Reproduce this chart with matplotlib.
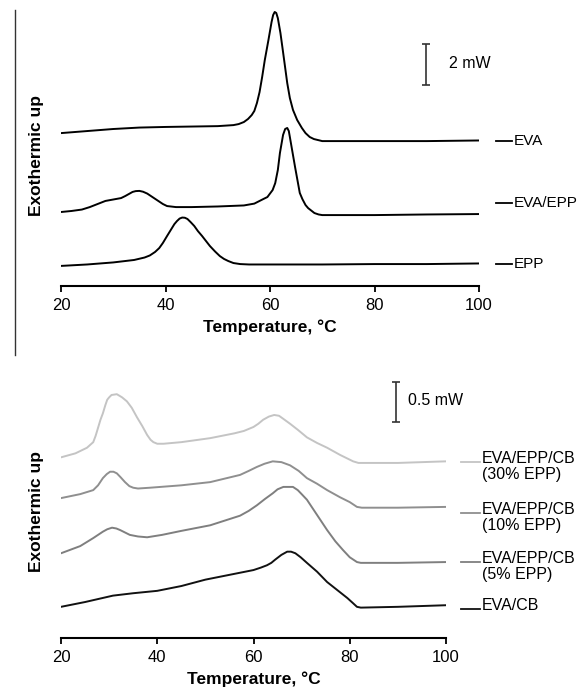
import matplotlib
matplotlib.use('Agg')
import matplotlib.pyplot as plt
from matplotlib.lines import Line2D

plt.rcParams['font.family'] = ['Liberation Sans', 'DejaVu Sans']

# ---- top panel: heat flow (mW, curves already shifted) vs temperature (C)
eva_t = [20, 25, 30, 35, 40, 45, 50, 53, 54, 55, 55.8, 56.5, 57, 57.5, 58, 58.5,
         59, 59.7, 60.3, 60.6, 60.9, 61.2, 61.5, 62.0, 62.5, 63.3, 63.8, 64.4,
         65.2, 66.1, 66.8, 67.6, 68.4, 69.2, 70, 80, 90, 100]
eva_q = [7.46, 7.56, 7.66, 7.73, 7.76, 7.78, 7.80, 7.85, 7.90, 8.00, 8.15, 8.34,
         8.54, 8.93, 9.46, 10.20, 11.02, 12.00, 12.88, 13.22, 13.37, 13.32, 13.07,
         12.34, 11.41, 9.90, 9.17, 8.59, 8.10, 7.71, 7.46, 7.27, 7.17, 7.12, 7.07,
         7.07, 7.07, 7.10]

evaepp_t = [20, 22, 24, 25.5, 27, 28.5, 30, 31.5, 32.3, 33, 33.7, 34.3, 35, 35.7,
            36.5, 37.5, 38.5, 39.5, 40.3, 41, 42, 45, 50, 55, 57, 58.7, 59.5, 60.5,
            61, 61.5, 61.9, 62.5, 62.9, 63.3, 63.6, 63.8, 64.8, 65.7, 66.2, 66.8,
            67.3, 68, 68.5, 69.3, 70, 80, 90, 100]
evaepp_q = [3.61, 3.66, 3.73, 3.85, 4.00, 4.15, 4.22, 4.29, 4.39, 4.49, 4.59, 4.63,
            4.64, 4.60, 4.51, 4.34, 4.17, 4.00, 3.90, 3.88, 3.85, 3.85, 3.88, 3.93,
            4.02, 4.24, 4.34, 4.68, 5.02, 5.66, 6.49, 7.37, 7.66, 7.71, 7.56, 7.27,
            5.80, 4.54, 4.24, 3.95, 3.80, 3.66, 3.56, 3.49, 3.46, 3.46, 3.49, 3.51]

epp_t = [20, 25, 30, 34, 36, 37, 38, 38.8, 39.5, 40.3, 41, 41.7, 42.2, 42.7, 43.2,
         43.7, 44.2, 44.8, 45.5, 46.2, 47, 48.5, 49.5, 50.4, 51.2, 52, 53, 54.3,
         56, 60, 70, 80, 90, 100]
epp_q = [0.98, 1.05, 1.15, 1.27, 1.39, 1.49, 1.66, 1.85, 2.10, 2.44, 2.73, 3.02,
         3.17, 3.29, 3.34, 3.33, 3.27, 3.12, 2.93, 2.68, 2.44, 1.95, 1.68, 1.46,
         1.32, 1.22, 1.12, 1.07, 1.05, 1.05, 1.05, 1.07, 1.07, 1.10]

top_labels = ['EVA', 'EVA/EPP', 'EPP']
top_label_y = [7.07, 4.05, 1.07]

# ---- bottom panel
cb30_t = [20, 23, 25.4, 26.7, 27.2, 27.7, 28.2, 28.7, 29.2, 29.6, 30.0, 30.5, 31.6,
          32.7, 33.7, 34.7, 35.8, 36.9, 37.9, 38.6, 39.2, 40, 41.3, 45, 51, 56, 58,
          60, 61, 62, 63.2, 64.3, 65.3, 66, 67.6, 69.3, 71.1, 73.2, 75.3, 78, 80.7,
          81.8, 82.5, 90, 100]
cb30_q = [2.26, 2.31, 2.38, 2.45, 2.53, 2.63, 2.73, 2.81, 2.91, 2.98, 3.01, 3.04,
          3.05, 3.01, 2.96, 2.88, 2.76, 2.65, 2.54, 2.48, 2.45, 2.43, 2.43, 2.45,
          2.50, 2.56, 2.59, 2.64, 2.68, 2.73, 2.77, 2.79, 2.78, 2.75, 2.68, 2.60,
          2.51, 2.44, 2.38, 2.29, 2.21, 2.19, 2.19, 2.19, 2.21]

cb10_t = [20, 24, 26.7, 27.7, 28.7, 29.5, 30.2, 30.9, 31.6, 32.4, 33.3, 34.2, 35,
          36, 38.5, 45, 51, 57.2, 59, 60.7, 62.3, 64, 65.8, 67.6, 69.4, 71.1, 73.2,
          75.3, 78, 80, 81.5, 82.5, 90, 100]
cb10_q = [1.75, 1.80, 1.85, 1.91, 2.00, 2.05, 2.08, 2.08, 2.06, 2.01, 1.95, 1.90,
          1.88, 1.87, 1.88, 1.91, 1.95, 2.04, 2.09, 2.14, 2.18, 2.21, 2.20, 2.16,
          2.09, 2.00, 1.93, 1.85, 1.76, 1.70, 1.64, 1.63, 1.63, 1.64]

cb5_t = [20, 24, 26.7, 27.7, 28.7, 29.6, 30.6, 31.5, 32.3, 33.3, 34.3, 36, 37.9,
         41, 45, 51, 57.2, 59, 60.7, 62.4, 64, 65, 66.2, 67.2, 68.2, 69.2, 70,
         71.1, 73.2, 75.3, 77, 78.6, 80, 81.5, 82.3, 90, 100]
cb5_q = [1.06, 1.15, 1.25, 1.29, 1.33, 1.36, 1.38, 1.37, 1.35, 1.32, 1.29, 1.27,
         1.26, 1.29, 1.34, 1.41, 1.53, 1.59, 1.66, 1.74, 1.81, 1.86, 1.89, 1.89,
         1.89, 1.85, 1.80, 1.73, 1.54, 1.35, 1.21, 1.10, 1.01, 0.95, 0.94, 0.94,
         0.95]

evacb_t = [20, 25, 30.8, 35, 40, 45, 50, 55, 60, 61.5, 62.8, 63.7, 64.5, 65.8, 67,
           67.8, 68.7, 69.8, 71.1, 73.2, 75.3, 77.4, 79.5, 80.6, 81.5, 82.3, 90,
           100]
evacb_q = [0.39, 0.45, 0.53, 0.56, 0.59, 0.65, 0.73, 0.79, 0.85, 0.88, 0.91, 0.94,
           0.98, 1.04, 1.08, 1.08, 1.06, 1.01, 0.94, 0.83, 0.70, 0.60, 0.50, 0.44,
           0.39, 0.38, 0.39, 0.41]

bot_labels = ['EVA/EPP/CB\n(30% EPP)', 'EVA/EPP/CB\n(10% EPP)',
              'EVA/EPP/CB\n(5% EPP)', 'EVA/CB']
bot_label_y = [2.20, 1.56, 0.95, 0.36]
bot_colors = ['#c4c4c4', '#8f8f8f', '#7f7f7f', '#111111']

xticks = [20, 40, 60, 80, 100]


def style_axis(ax):
    for s in ['left', 'top', 'right']:
        ax.spines[s].set_visible(False)
    ax.spines['bottom'].set_linewidth(1.5)
    ax.spines['bottom'].set_bounds(20, 100)
    ax.set_xlim(20, 100)
    ax.set_xticks(xticks)
    ax.set_yticks([])
    ax.tick_params(axis='x', length=4, width=1.3, labelsize=12, pad=4.5)
    ax.patch.set_alpha(0)


line_kw = dict(lw=1.4, solid_joinstyle='round', solid_capstyle='round')

fig = plt.figure(figsize=(5.84, 6.91), dpi=100)

# top panel
ax1 = fig.add_axes([61 / 584, 405 / 691, 418 / 584, 281 / 691])
style_axis(ax1)
ax1.set_ylim(0, 13.71)
for t, q in [(eva_t, eva_q), (evaepp_t, evaepp_q), (epp_t, epp_q)]:
    ax1.plot(t, q, color='black', **line_kw)
for lab, y in zip(top_labels, top_label_y):
    ax1.plot([103.3, 106.4], [y, y], color='black', lw=1.3, clip_on=False)
    ax1.text(106.6, y, lab, fontsize=11, va='center', ha='left')
# 2 mW scale bar
ax1.errorbar([89.9], [10.8], yerr=[1.0], color='#333333', capsize=3, lw=1.2,
             capthick=1.2)
ax1.text(94.2, 10.88, '2 mW', fontsize=11.5, va='center')
ax1.set_xlabel('Temperature, °C', fontsize=12.5, fontweight='bold', labelpad=5)
fig.text(37 / 584, 1 - 155 / 691, 'Exothermic up', rotation=90, fontsize=12.5,
         fontweight='bold', ha='center', va='center')

# bottom panel
ax2 = fig.add_axes([61 / 584, 53 / 691, 385 / 584, 263 / 691])
style_axis(ax2)
ax2.set_ylim(0, 3.29)
curves = [(cb30_t, cb30_q), (cb10_t, cb10_q), (cb5_t, cb5_q), (evacb_t, evacb_q)]
for (t, q), c in zip(curves, bot_colors):
    ax2.plot(t, q, color=c, **line_kw)
for lab, y, c in zip(bot_labels, bot_label_y, bot_colors):
    ax2.plot([103.2, 107.1], [y, y], color=c, lw=1.3, clip_on=False)
    ax2.annotate(lab, xy=(107.4, y), xytext=(0, 8), textcoords='offset points',
                 fontsize=11.5, va='top', ha='left', annotation_clip=False,
                 linespacing=1.1)
# 0.5 mW scale bar
ax2.errorbar([89.6], [2.95], yerr=[0.25], color='#333333', capsize=3, lw=1.2,
             capthick=1.2, clip_on=False)
ax2.text(92.1, 2.975, '0.5 mW', fontsize=11.5, va='center')
ax2.set_xlabel('Temperature, °C', fontsize=12.5, fontweight='bold', labelpad=5)
fig.text(37 / 584, 1 - 511 / 691, 'Exothermic up', rotation=90, fontsize=12.5,
         fontweight='bold', ha='center', va='center')

# thin frame line at the left of the top panel
fig.add_artist(Line2D([15 / 584, 15 / 584], [1 - 10 / 691, 1 - 355 / 691],
                      color='#333333', lw=1.0))

fig.savefig('out.png', dpi=100)
